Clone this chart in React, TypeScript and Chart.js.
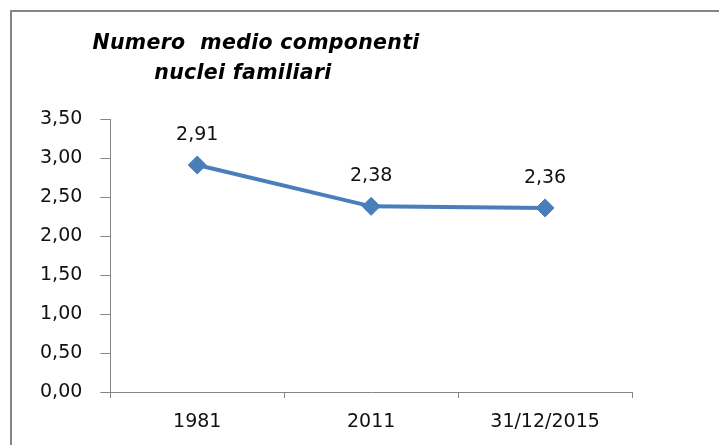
import React, { useEffect, useRef } from "react";
import { Chart, registerables } from "chart.js";

Chart.register(...registerables);

const categories = ["1981", "2011", "31/12/2015"];
const values = [2.91, 2.38, 2.36];
const titleLines = ["Numero  medio componenti", "nuclei familiari"];
const yMin = 0;
const yMax = 3.5;
const yStep = 0.5;

const fmt = (v: number) => v.toFixed(2).replace(".", ",");

const BLUE = "#4a7ebb";
const AXIS = "#868686";
const FONT = "'DejaVu Sans', sans-serif";

const framePlugin = {
  id: "frame",
  beforeDraw(chart: any) {
    const ctx = chart.ctx;
    ctx.save();
    ctx.fillStyle = "#ffffff";
    ctx.fillRect(0, 0, chart.width, chart.height);
    ctx.strokeStyle = AXIS;
    ctx.lineWidth = 2;
    ctx.strokeRect(11, 11, chart.width + 50, chart.height + 50);
    ctx.restore();
  },
};

const titlePlugin = {
  id: "customTitle",
  afterDraw(chart: any) {
    const ctx = chart.ctx;
    ctx.save();
    ctx.fillStyle = "#000000";
    ctx.font = `italic bold 20.5px ${FONT}`;
    (ctx as any).letterSpacing = "0.3px";
    ctx.textAlign = "center";
    ctx.textBaseline = "middle";
    const centers = [256, 243];
    const ys = [44, 74];
    titleLines.forEach((line, i) => {
      ctx.fillText(line, centers[i], ys[i]);
    });
    ctx.restore();
  },
};

const labelPlugin = {
  id: "dataLabels",
  afterDatasetsDraw(chart: any) {
    const ctx = chart.ctx;
    const meta = chart.getDatasetMeta(0);
    ctx.save();
    ctx.fillStyle = "#111111";
    ctx.font = `19px ${FONT}`;
    ctx.textAlign = "center";
    ctx.textBaseline = "middle";
    meta.data.forEach((pt: any, i: number) => {
      ctx.fillText(fmt(values[i]), pt.x, pt.y - 30);
    });
    ctx.restore();
  },
};

export default function App() {
  const ref = useRef<HTMLCanvasElement | null>(null);

  useEffect(() => {
    if (!ref.current) return;
    const chart = new Chart(ref.current, {
      type: "line",
      data: {
        labels: categories,
        datasets: [
          {
            data: values,
            borderColor: BLUE,
            backgroundColor: BLUE,
            borderWidth: 4,
            pointStyle: "rectRot",
            pointRadius: 9,
            pointBackgroundColor: BLUE,
            pointBorderColor: BLUE,
            pointBorderWidth: 1,
            tension: 0,
          },
        ],
      },
      options: {
        responsive: false,
        animation: false,
        layout: { padding: { left: 22, right: 87, top: 119, bottom: 0 } },
        plugins: {
          legend: { display: false },
          title: { display: false },
          tooltip: { enabled: false },
        },
        scales: {
          x: {
            offset: true,
            afterFit: (s: any) => {
              s.height = 53;
            },
            grid: {
              offset: true,
              drawOnChartArea: false,
              color: AXIS,
              tickLength: 6,
            },
            border: { color: AXIS, width: 1 },
            ticks: {
              color: "#111111",
              font: { family: FONT, size: 19 },
              padding: 13,
              maxRotation: 0,
            },
          },
          y: {
            min: yMin,
            max: yMax,
            grid: {
              drawOnChartArea: false,
              color: AXIS,
              tickLength: 10,
            },
            border: { color: AXIS, width: 1 },
            ticks: {
              stepSize: yStep,
              color: "#111111",
              font: { family: FONT, size: 19 },
              padding: 18,
              callback: (v: any) => fmt(Number(v)),
            },
          },
        },
      },
      plugins: [framePlugin, titlePlugin, labelPlugin],
    });
    return () => chart.destroy();
  }, []);

  return (
    <div style={{ position: "fixed", left: 0, top: 0, width: 719, height: 445 }}>
      <canvas ref={ref} width={719} height={445} />
    </div>
  );
}
